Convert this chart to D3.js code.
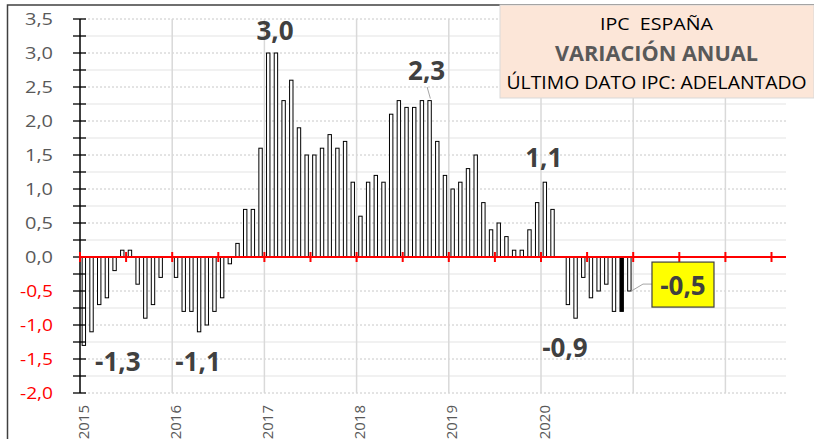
<!DOCTYPE html>
<html lang="es">
<head>
<meta charset="UTF-8">
<title>IPC España - Variación anual</title>
<script src="https://cdn.jsdelivr.net/npm/d3@7"></script>
<style>
  body { margin: 0; background: #fff; }
  svg { display: block; font-family: "Open Sans", Lato, sans-serif; }
</style>
</head>
<body>
<div id="chart"></div>
<script>
// monthly annual variation (%), Jan 2015 .. Dec 2020
const startYear = 2015;
const ipc2015 = [-1.3, -1.1, -0.7, -0.6, -0.2, 0.1, 0.1, -0.4, -0.9, -0.7, -0.3, 0.0];
const ipc2016 = [-0.3, -0.8, -0.8, -1.1, -1.0, -0.8, -0.6, -0.1, 0.2, 0.7, 0.7, 1.6];
const ipc2017 = [3.0, 3.0, 2.3, 2.6, 1.9, 1.5, 1.5, 1.6, 1.8, 1.6, 1.7, 1.1];
const ipc2018 = [0.6, 1.1, 1.2, 1.1, 2.1, 2.3, 2.2, 2.2, 2.3, 2.3, 1.7, 1.2];
const ipc2019 = [1.0, 1.1, 1.3, 1.5, 0.8, 0.4, 0.5, 0.3, 0.1, 0.1, 0.4, 0.8];
const ipc2020 = [1.1, 0.7, 0.0, -0.7, -0.9, -0.3, -0.6, -0.5, -0.4, -0.8, -0.8, -0.5];
const highlightIndex = 70; // Nov 2020, black bar

const yTicks = [-2, -1.5, -1, -0.5, 0, 0.5, 1, 1.5, 2, 2.5, 3, 3.5];
const yearTicks = [2015, 2016, 2017, 2018, 2019, 2020, 2021, 2022];

// peak labels: position in (decimal year, value)
const peakLabels = [
  { text: "3,0", x: 2017.115, y: 3.19 },
  { text: "2,3", x: 2018.76, y: 2.6 },
  { text: "1,1", x: 2020.03, y: 1.33 },
  { text: "-1,3", x: 2015.41, y: -1.68 },
  { text: "-1,1", x: 2016.28, y: -1.68 },
  { text: "-0,9", x: 2020.26, y: -1.47 }
];
const lastLabel = { text: "-0,5", x: 2021.54, y: -0.56 };

const titleLines = ["IPC  ESPAÑA", "VARIACIÓN ANUAL", "ÚLTIMO DATO IPC: ADELANTADO"];

const values = [].concat(ipc2015, ipc2016, ipc2017, ipc2018, ipc2019, ipc2020);
const data = values.map((v, i) => ({ t: startYear + (i + 0.5) / 12, v, i }));

const W = 814, H = 439;
const svg = d3.select("#chart").append("svg").attr("width", W).attr("height", H);

const x = d3.scaleLinear().domain([2015, 2015 + 706 / 92.2]).range([80, 786]);
const y = d3.scaleLinear().domain([-2, 3.5]).range([393, 19]);

// outer border
svg.append("rect").attr("x", 7.5).attr("y", 5).attr("width", W).attr("height", H)
  .attr("fill", "#fff").attr("stroke", "#404040").attr("stroke-width", 1.5);

// horizontal grid: minor solid, major dotted
const minor = d3.range(-1.75, 3.5, 0.5);
svg.append("g").selectAll("line").data(minor).join("line")
  .attr("x1", x(2015)).attr("x2", x.range()[1])
  .attr("y1", d => y(d)).attr("y2", d => y(d))
  .attr("stroke", "#ededed").attr("stroke-width", 1.5);
svg.append("g").selectAll("line").data(yTicks).join("line")
  .attr("x1", x(2015)).attr("x2", x.range()[1])
  .attr("y1", d => y(d)).attr("y2", d => y(d))
  .attr("stroke", "#c8c8c8").attr("stroke-width", 1).attr("stroke-dasharray", "2,2");

// vertical year grid
svg.append("g").selectAll("line").data(yearTicks.slice(1)).join("line")
  .attr("x1", d => x(d)).attr("x2", d => x(d))
  .attr("y1", y(3.5)).attr("y2", y(-2))
  .attr("stroke", "#d9d9d9").attr("stroke-width", 1.5);

// bars
const bw = 3.4;
svg.append("g").selectAll("rect").data(data.filter(d => d.v !== 0)).join("rect")
  .attr("x", d => x(d.t) - bw / 2)
  .attr("width", bw)
  .attr("y", d => y(Math.max(0, d.v)))
  .attr("height", d => Math.abs(y(d.v) - y(0)))
  .attr("fill", d => d.i === highlightIndex ? "#000" : "#fff")
  .attr("stroke", "#000").attr("stroke-width", 1);

// y axis
const yAxis = svg.append("g").attr("transform", `translate(${x(2015)},0)`);
yAxis.append("line").attr("y1", y(3.5)).attr("y2", y(-2)).attr("stroke", "#000").attr("stroke-width", 1.5);
yAxis.selectAll(".tk").data(d3.range(-2, 3.51, 0.25)).join("line")
  .attr("x1", -7).attr("x2", 6)
  .attr("y1", d => y(d)).attr("y2", d => y(d))
  .attr("stroke", "#000").attr("stroke-width", 1.3);
yAxis.selectAll("text").data(yTicks).join("text")
  .attr("x", -27).attr("y", d => y(d)).attr("dy", "0.36em")
  .attr("text-anchor", "end")
  .attr("font-size", 16)
  .attr("textLength", d => d < 0 ? 33 : 28)
  .attr("lengthAdjust", "spacingAndGlyphs")
  .attr("fill", d => d < 0 ? "#ff0000" : "#595959")
  .text(d => d3.format(".1f")(d).replace(".", ",").replace("−", "-"));

// zero line with half-year ticks
svg.append("line").attr("x1", x(2015)).attr("x2", x.range()[1])
  .attr("y1", y(0)).attr("y2", y(0)).attr("stroke", "#ff0000").attr("stroke-width", 2);
svg.append("g").selectAll("line").data(d3.range(2015, 2022.51, 0.5)).join("line")
  .attr("x1", d => x(d)).attr("x2", d => x(d))
  .attr("y1", y(0) - 5).attr("y2", y(0) + 5)
  .attr("stroke", "#ff0000").attr("stroke-width", 2);

// x labels (only years with data)
svg.append("g").selectAll("text").data(yearTicks.slice(0, 6)).join("text")
  .attr("transform", d => `translate(${x(d) + 8.5},405) rotate(-90)`)
  .attr("text-anchor", "end")
  .attr("font-size", 15)
  .attr("fill", "#595959")
  .text(d => d);

// peak labels
svg.append("g").selectAll("text").data(peakLabels).join("text")
  .attr("x", d => x(d.x)).attr("y", d => y(d.y))
  .attr("text-anchor", "middle")
  .attr("font-size", 26).attr("font-weight", "bold")
  .attr("fill", "#404040")
  .text(d => d.text);

// small leader for 2,3
svg.append("line")
  .attr("x1", x(2018.765)).attr("y1", y(2.5)).attr("x2", x(2018.8)).attr("y2", y(2.33))
  .attr("stroke", "#a6a6a6").attr("stroke-width", 1);

// last value callout
const lastBar = data[data.length - 1];
const bx = x(lastLabel.x), byv = y(lastLabel.y);
svg.append("polyline")
  .attr("points", [[x(lastBar.t) + 2, y(lastBar.v)], [bx - 40, y(lastLabel.y) - 11], [bx - 31, y(lastLabel.y) - 11]].join(" "))
  .attr("fill", "none").attr("stroke", "#a6a6a6").attr("stroke-width", 1);
svg.append("rect")
  .attr("x", bx - 31).attr("y", byv - 33).attr("width", 62).attr("height", 45)
  .attr("fill", "#ffff00").attr("stroke", "#404040").attr("stroke-width", 1.2);
svg.append("text")
  .attr("x", bx).attr("y", byv)
  .attr("text-anchor", "middle")
  .attr("font-size", 26).attr("font-weight", "bold")
  .attr("fill", "#404040")
  .text(lastLabel.text);

// title box
svg.append("rect").attr("x", 500).attr("y", 5).attr("width", 314).attr("height", 93)
  .attr("fill", "#fce6d8").attr("stroke", "#d9d9d9").attr("stroke-width", 1);
const tcx = 656.5;
const titleStyle = [
  { size: 17, weight: "normal", fill: "#000", y: 30, len: 113 },
  { size: 21, weight: "bold", fill: "#595959", y: 61, len: 203 },
  { size: 18.5, weight: "normal", fill: "#000", y: 89, len: 300 }
];
svg.append("g").selectAll("text").data(titleLines).join("text")
  .attr("x", tcx).attr("y", (d, i) => titleStyle[i].y)
  .attr("text-anchor", "middle")
  .attr("font-size", (d, i) => titleStyle[i].size)
  .attr("font-weight", (d, i) => titleStyle[i].weight)
  .attr("fill", (d, i) => titleStyle[i].fill)
  .attr("textLength", (d, i) => titleStyle[i].len)
  .attr("lengthAdjust", "spacingAndGlyphs")
  .attr("xml:space", "preserve")
  .text(d => d);
</script>
</body>
</html>
